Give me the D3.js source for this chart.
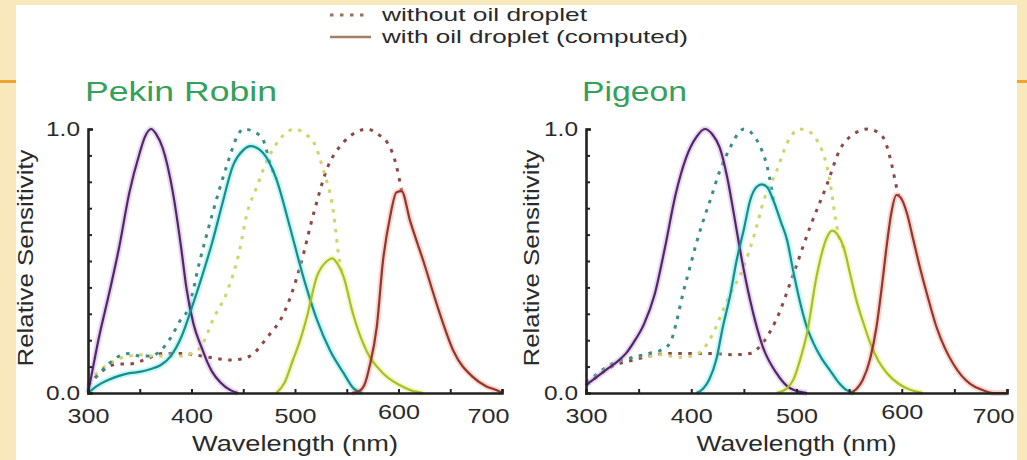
<!DOCTYPE html>
<html><head><meta charset="utf-8">
<script src="https://cdn.jsdelivr.net/npm/d3@7"></script>
<style>
html,body{margin:0;padding:0;background:#f8e8bc;}
svg{display:block;}
text{font-family:"Liberation Sans",Arial,Helvetica,sans-serif;}
</style></head>
<body>
<svg id="chart" width="1027" height="460"></svg>
<script>
// ---------- data (wavelength nm, relative sensitivity) ----------
const xTickValues = [300,350,400,450,500,550,600,650,700];
const xTickLabels = {300:"300",400:"400",500:"500",600:"600",700:"700"};
const yTickValues = [0,0.1,0.2,0.3,0.4,0.5,0.6,0.7,0.8,0.9,1.0];
const yTickLabels = {0:"0.0",1:"1.0"};
const panelTitles = ["Pekin Robin","Pigeon"];
const legendLabels = ["without oil droplet","with oil droplet (computed)"];
const xAxisTitle = "Wavelength (nm)";
const yAxisTitle = "Relative Sensitivity";

// Pekin Robin
const robinVioletSolid = [[300,0],[305,0.1],[310,0.2],[320,0.37],[330,0.55],[340,0.76],[350,0.91],[355,0.97],[361,1.0],[366,0.98],[372,0.93],[382,0.76],[390,0.55],[395,0.40],[402,0.26],[410,0.17],[415,0.12],[420,0.08],[428,0.04],[438,0.01],[445,0]];
const robinBlueSolid = [[300,0],[310,0.03],[320,0.05],[330,0.065],[340,0.075],[350,0.08],[360,0.09],[370,0.105],[380,0.14],[390,0.21],[400,0.32],[410,0.44],[420,0.57],[430,0.72],[440,0.86],[450,0.92],[457,0.935],[469,0.91],[482,0.81],[495,0.63],[508,0.44],[521,0.28],[534,0.16],[547,0.075],[556,0.02],[565,0]];
const robinBlueDashed = [[300,0.03],[310,0.07],[320,0.11],[330,0.14],[340,0.15],[350,0.14],[360,0.14],[370,0.16],[380,0.21],[390,0.28],[396,0.31],[408,0.5],[421,0.69],[434,0.86],[444,0.97],[450,1.0],[460,0.99],[469,0.96],[476,0.87],[482,0.81]];
const robinGreenSolid = [[482,0],[490,0.04],[498,0.125],[505,0.2],[511,0.28],[521,0.44],[531,0.50],[536,0.51],[541,0.49],[547,0.44],[556,0.30],[569,0.16],[585,0.075],[601,0.03],[612,0.01],[624,0]];
const robinGreenDashed = [[300,0.04],[310,0.08],[320,0.11],[330,0.13],[340,0.14],[350,0.145],[360,0.14],[370,0.14],[380,0.14],[390,0.14],[400,0.15],[410,0.18],[421,0.28],[434,0.38],[447,0.55],[453,0.67],[463,0.78],[473,0.88],[485,0.96],[500,1.0],[510,0.98],[518,0.95],[527,0.85],[537,0.69],[543,0.5],[547,0.44]];
const robinRedSolid = [[555,0],[563,0.01],[568,0.04],[572,0.1],[579,0.25],[585,0.50],[592,0.67],[598,0.76],[603,0.765],[611,0.655],[624,0.50],[640,0.30],[653,0.16],[672,0.06],[685,0.025],[695,0.01],[700,0]];
const robinRedDashed = [[300,0.03],[310,0.07],[320,0.1],[330,0.11],[340,0.11],[350,0.12],[357,0.13],[372,0.15],[390,0.15],[410,0.14],[425,0.13],[438,0.125],[450,0.13],[460,0.15],[473,0.21],[489,0.30],[505,0.48],[518,0.68],[531,0.85],[547,0.95],[560,0.99],[570,1.0],[580,0.98],[589,0.95],[598,0.86],[603,0.765]];

// Pigeon
const pigeonVioletSolid = [[300,0.03],[310,0.06],[320,0.09],[330,0.12],[338,0.15],[345,0.19],[355,0.26],[365,0.37],[375,0.55],[385,0.75],[395,0.89],[405,0.97],[413,1.0],[420,0.98],[427,0.93],[434,0.82],[440,0.69],[446,0.55],[456,0.35],[468,0.175],[481,0.075],[490,0.03],[497,0.012],[510,0]];
const pigeonBlueSolid = [[405,0],[411,0.015],[417,0.05],[424,0.13],[430,0.25],[437,0.37],[443,0.5],[450,0.62],[456,0.73],[462,0.78],[467,0.79],[472,0.78],[478,0.73],[485,0.65],[491,0.58],[497,0.46],[503,0.35],[509,0.26],[516,0.19],[524,0.13],[532,0.085],[540,0.04],[548,0.01],[555,0]];
const pigeonBlueDashed = [[300,0.04],[310,0.07],[320,0.1],[330,0.12],[340,0.13],[350,0.14],[360,0.15],[370,0.16],[380,0.19],[386,0.27],[392,0.375],[399,0.48],[405,0.57],[412,0.66],[418,0.73],[427,0.84],[437,0.93],[444,0.98],[450,1.0],[456,0.99],[462,0.96],[467,0.92],[472,0.86],[476,0.78],[478,0.73]];
const pigeonGreenSolid = [[481,0],[490,0.015],[497,0.05],[503,0.12],[510,0.226],[519,0.44],[529,0.59],[534,0.615],[539,0.6],[545,0.55],[551,0.45],[557,0.35],[564,0.26],[570,0.19],[578,0.12],[586,0.075],[597,0.035],[608,0.012],[620,0]];
const pigeonGreenDashed = [[300,0.04],[310,0.07],[320,0.1],[330,0.12],[340,0.13],[350,0.14],[360,0.14],[370,0.145],[380,0.14],[390,0.135],[400,0.14],[410,0.16],[420,0.22],[434,0.35],[450,0.48],[460,0.6],[469,0.73],[481,0.84],[491,0.946],[503,1.0],[512,0.99],[519,0.96],[525,0.91],[529,0.857],[533,0.77],[537,0.66],[541,0.58],[545,0.55]];
const pigeonRedSolid = [[551,0],[557,0.015],[563,0.05],[570,0.13],[576,0.25],[581,0.4],[586,0.567],[590,0.68],[595,0.75],[599,0.74],[605,0.68],[611,0.58],[617,0.48],[625,0.36],[633,0.25],[641,0.17],[649,0.11],[657,0.065],[665,0.035],[676,0.012],[687,0],[700,0]];
const pigeonRedDashed = [[300,0.03],[310,0.06],[320,0.09],[330,0.11],[340,0.12],[350,0.13],[360,0.14],[380,0.15],[400,0.15],[420,0.15],[440,0.145],[456,0.15],[468,0.19],[481,0.28],[497,0.45],[513,0.63],[529,0.79],[541,0.92],[554,0.98],[568,1.0],[582,0.97],[589,0.89],[595,0.78],[597,0.746]];

// ---------- styles ----------
const colors = {
  violet:{core:"#52276a", halo:"#c9a6dc"},
  blue:{core:"#1c8c8a", halo:"#6ff2ee"},
  green:{core:"#a6bf2e", halo:"#eef27a"},
  red:{core:"#93362b", halo:"#f2a596"},
  blueD:"#3b8d8a", greenD:"#cdd66a", redD:"#8e4843"
};

const svg = d3.select("#chart");
// background frame
svg.append("rect").attr("x",0).attr("y",0).attr("width",1027).attr("height",460).attr("fill","#f8e8bc");
svg.append("rect").attr("x",16).attr("y",5).attr("width",1001).attr("height",455).attr("fill","#ffffff");
svg.append("rect").attr("x",0).attr("y",80).attr("width",16).attr("height",3).attr("fill","#f0a330");
svg.append("rect").attr("x",1017).attr("y",80).attr("width",10).attr("height",3).attr("fill","#f0a330");

const panels = [
  {title:panelTitles[0], xr:[88,502], titleX:85, titleW:192, xtW:206, ylabX:33,
   solids:[[robinVioletSolid,"violet"],[robinBlueSolid,"blue"],[robinGreenSolid,"green"],[robinRedSolid,"red"]],
   dashed:[[robinRedDashed,"redD"],[robinGreenDashed,"greenD"],[robinBlueDashed,"blueD"]]},
  {title:panelTitles[1], xr:[586,1007], titleX:582, titleW:105, xtW:200, ylabX:539,
   solids:[[pigeonVioletSolid,"violet"],[pigeonBlueSolid,"blue"],[pigeonGreenSolid,"green"],[pigeonRedSolid,"red"]],
   dashed:[[pigeonRedDashed,"redD"],[pigeonGreenDashed,"greenD"],[pigeonBlueDashed,"blueD"]]}
];

const y = d3.scaleLinear().domain([0,1]).range([393,129]);

panels.forEach(p => {
  const x = d3.scaleLinear().domain([300,700]).range(p.xr);
  const line = d3.line().x(d=>x(d[0])).y(d=>y(d[1])).curve(d3.curveMonotoneX);
  const g = svg.append("g");

  // dashed curves (dotted)
  p.dashed.forEach(([data,c]) => {
    g.append("path").attr("d",line(data)).attr("fill","none")
      .attr("stroke",colors[c]).attr("stroke-width",3)
      .attr("stroke-dasharray","3.5 6.5");
  });
  // halos
  p.solids.forEach(([data,c]) => {
    g.append("path").attr("d",line(data)).attr("fill","none")
      .attr("stroke",colors[c].halo).attr("stroke-width",6).attr("opacity",0.45)
      .attr("stroke-linejoin","round");
  });
  // solid curves
  p.solids.forEach(([data,c]) => {
    g.append("path").attr("d",line(data)).attr("fill","none")
      .attr("stroke",colors[c].core).attr("stroke-width",2.2)
      .attr("stroke-linejoin","round");
  });

  // x axis
  const xa = g.append("g").attr("transform","translate(0,393)")
    .call(d3.axisBottom(x).tickValues(xTickValues).tickSizeInner(-4).tickSizeOuter(-4)
      .tickPadding(15).tickFormat(d => xTickLabels[d] || ""));
  // y axis
  const ya = g.append("g").attr("transform",`translate(${p.xr[0]},0)`)
    .call(d3.axisLeft(y).tickValues(yTickValues).tickSizeInner(-4).tickSizeOuter(-5)
      .tickPadding(8).tickFormat(d => yTickLabels[d] || ""));
  [xa,ya].forEach(a => {
    a.select(".domain").attr("stroke","#222").attr("stroke-width",2.6);
    a.selectAll(".tick line").attr("stroke","#222").attr("stroke-width",2);
    a.selectAll("text").attr("fill","#2a2a2a").attr("font-size",21)
      .attr("font-family","Liberation Sans, Arial, sans-serif");
  });
  xa.selectAll(".tick text").filter(d=>xTickLabels[d])
    .attr("textLength",42).attr("lengthAdjust","spacingAndGlyphs");
  xa.selectAll(".tick text").filter(d=>d===700).attr("dx",-14);
  xa.selectAll(".tick text").filter(d=>d===600).attr("y",11);
  ya.selectAll(".tick text").filter(d=>yTickLabels[d] !== undefined)
    .attr("textLength",34).attr("lengthAdjust","spacingAndGlyphs");

  // titles
  g.append("text").attr("x",p.titleX).attr("y",101).attr("font-size",27)
    .attr("fill","#35a05a").attr("textLength",p.titleW).attr("lengthAdjust","spacingAndGlyphs")
    .text(p.title);
  const cx = (p.xr[0]+p.xr[1])/2;
  g.append("text").attr("x",cx).attr("y",451).attr("text-anchor","middle")
    .attr("font-size",22).attr("fill","#2a2a2a").attr("textLength",p.xtW)
    .attr("lengthAdjust","spacingAndGlyphs").text(xAxisTitle);
  g.append("text").attr("transform",`translate(${p.ylabX},258) rotate(-90)`)
    .attr("text-anchor","middle").attr("font-size",22).attr("fill","#2a2a2a")
    .attr("textLength",217).attr("lengthAdjust","spacingAndGlyphs").text(yAxisTitle);
});

// legend
const lg = svg.append("g");
lg.append("line").attr("x1",330).attr("x2",370).attr("y1",15).attr("y2",15)
  .attr("stroke","#9a7060").attr("stroke-width",3).attr("stroke-dasharray","3.5 6.5");
lg.append("line").attr("x1",330).attr("x2",371).attr("y1",37).attr("y2",37)
  .attr("stroke","#a58060").attr("stroke-width",2.4);
lg.append("text").attr("x",382).attr("y",21).attr("font-size",19).attr("fill","#2a2a2a")
  .attr("textLength",205).attr("lengthAdjust","spacingAndGlyphs").text(legendLabels[0]);
lg.append("text").attr("x",382).attr("y",42.5).attr("font-size",19).attr("fill","#2a2a2a")
  .attr("textLength",306).attr("lengthAdjust","spacingAndGlyphs").text(legendLabels[1]);
</script>
</body></html>
